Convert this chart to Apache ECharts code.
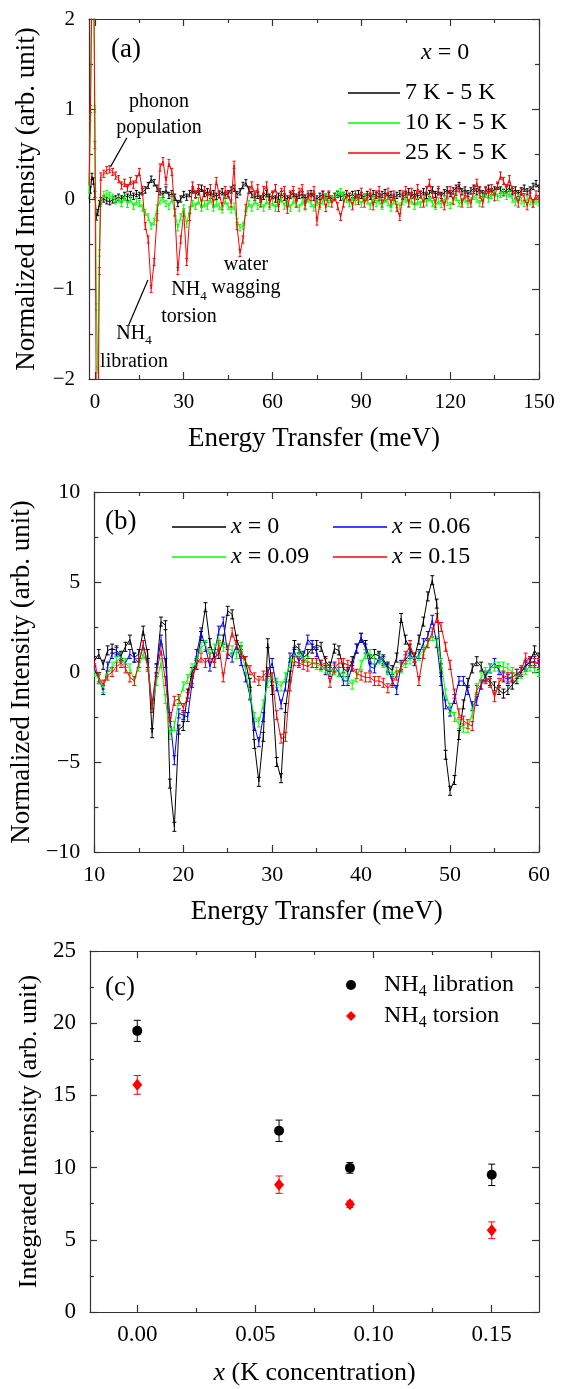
<!DOCTYPE html>
<html><head><meta charset="utf-8">
<script src="https://cdn.jsdelivr.net/npm/echarts@6/dist/echarts.min.js"></script>
<style>html,body{margin:0;padding:0;background:#fff}#c{width:567px;height:1389px}</style>
</head><body><div id="c"></div>
<script>
const FONT = '"Liberation Serif","Times New Roman",serif';
const AX = '#333';

// ---------------- Panel (a) data ----------------
const xA = [-2,-1.5,-1,-0.5,0,0.5,1,1.5,2,
3,4,5,6,7,8,9,10,11,12,
13,14,15,16,17,18,19,20,21,22,
23,24,25,26,27,28,29,30,31,32,
33,34,35,36,37,38,39,40,41,42,
43,44,45,46,47,48,49,50,51,52,
53,54,55,56,57,58,59,60,61,62,
63,64,65,66,67,68,69,70,71,72,
73,74,75,76,77,78,79,80,81,82,
83,84,85,86,87,88,89,90,91,92,
93,94,95,96,97,98,99,100,101,102,
103,104,105,106,107,108,109,110,111,112,
113,114,115,116,117,118,119,120,121,122,
123,124,125,126,127,128,129,130,131,132,
133,134,135,136,137,138,139,140,141,142,
143,144,145,146,147,148,149,150];
const a7K = [0.0,0.1,0.25,0.2,0.05,-0.2,-0.15,-0.05,-0.02,
0.0,-0.02,-0.03,-0.01,0.0,0.02,0.0,0.04,0.02,0.05,
0.03,0.06,0.04,0.08,0.1,0.15,0.22,0.18,0.12,0.08,
0.05,0.1,0.04,0.06,0.02,-0.05,0.0,0.05,0.02,0.06,
0.1,0.05,0.08,0.12,0.06,0.08,0.04,0.06,0.03,0.05,
0.08,0.04,0.06,0.1,0.12,0.05,0.08,0.15,0.18,0.1,
0.05,0.02,0.04,0.0,0.03,0.06,0.02,0.04,0.0,0.03,
0.05,0.02,0.0,0.04,0.06,0.02,0.04,0.05,0.01,0.03,
0.06,0.02,0.0,0.03,0.05,0.02,0.04,0.0,0.03,0.05,
0.02,0.04,0.06,0.03,0.05,0.02,0.06,0.04,0.02,0.05,
0.03,0.06,0.04,0.02,0.05,0.07,0.03,0.05,0.02,0.04,
0.06,0.03,0.05,0.08,0.04,0.06,0.03,0.05,0.08,0.04,
0.06,0.1,0.05,0.08,0.04,0.07,0.1,0.06,0.09,0.12,
0.15,0.08,0.1,0.06,0.09,0.12,0.08,0.1,0.06,0.09,
0.12,0.08,0.1,0.14,0.1,0.07,0.1,0.12,0.08,0.1,
0.06,0.09,0.12,0.08,0.1,0.14,0.17,0.12];
const a10K = [0.05,0.9,2.5,2.8,1.0,-1.2,-1.9,-0.6,-0.05,
0.05,0.06,0.04,0.02,-0.02,0.0,-0.05,0.02,-0.06,0.0,
-0.08,-0.03,-0.05,-0.1,-0.15,-0.2,-0.3,-0.25,-0.1,-0.02,
0.0,-0.05,-0.08,0.0,-0.15,-0.32,-0.2,-0.1,-0.28,-0.12,
-0.05,-0.08,-0.02,-0.1,-0.05,-0.08,0.0,-0.1,-0.05,-0.08,
-0.12,-0.02,-0.08,-0.12,-0.08,-0.25,-0.32,-0.3,-0.15,-0.05,
-0.1,-0.02,-0.08,-0.05,-0.1,-0.02,-0.08,-0.04,-0.1,-0.05,
0.0,-0.08,-0.05,-0.1,-0.02,-0.06,-0.1,-0.03,-0.07,0.0,
-0.05,-0.1,-0.04,-0.08,-0.02,0.02,-0.05,0.0,0.03,0.06,
0.08,0.04,0.0,-0.05,0.02,-0.03,0.0,-0.06,0.02,-0.02,
-0.08,0.0,-0.05,-0.02,-0.08,0.0,-0.04,-0.1,-0.02,-0.06,
-0.08,-0.03,0.0,-0.05,-0.02,-0.08,-0.03,-0.06,0.0,-0.04,
0.02,-0.05,-0.08,-0.02,-0.06,0.0,-0.04,-0.07,-0.02,0.02,
-0.05,-0.03,0.0,-0.06,-0.02,0.03,0.0,-0.05,0.02,0.05,
0.0,0.04,0.07,0.02,0.05,0.08,0.03,0.06,0.0,-0.04,
0.02,-0.02,-0.05,0.0,-0.03,-0.06,-0.02,-0.04];
const a25K = [0.15,1.0,2.6,3.0,0.6,-2.6,-2.8,-0.8,0.25,
0.28,0.32,0.33,0.3,0.26,0.22,0.15,0.18,0.12,0.2,
0.16,0.22,0.3,0.1,-0.3,-0.45,-1.0,-0.7,-0.2,0.35,
0.42,0.2,0.4,0.3,-0.15,-0.8,-0.45,-0.15,-0.7,-0.2,
0.15,0.05,0.12,-0.05,0.1,0.02,0.12,-0.05,0.2,0.05,
-0.08,0.1,0.05,-0.05,0.38,-0.3,-0.6,-0.45,-0.1,0.1,
0.15,0.05,0.12,-0.05,0.1,0.15,-0.05,0.05,0.12,-0.1,
0.08,0.1,-0.12,0.05,0.1,-0.05,0.08,0.12,-0.08,0.05,
0.02,0.1,-0.25,-0.05,0.05,-0.1,0.05,-0.05,0.02,-0.08,
-0.2,-0.05,0.05,0.02,-0.08,0.05,-0.02,0.08,-0.05,0.02,
0.07,-0.08,0.05,0.1,-0.05,0.02,0.08,-0.05,0.05,-0.1,
-0.2,0.05,0.1,-0.05,0.08,-0.02,0.12,0.05,-0.05,0.1,
0.18,0.05,-0.05,0.1,0.02,-0.08,0.05,0.1,-0.02,0.08,
0.12,-0.05,0.05,0.02,-0.05,0.1,0.18,0.05,-0.05,0.1,
0.05,0.12,0.02,0.15,0.26,0.2,0.12,0.22,0.1,0.05,
-0.05,0.08,0.02,-0.08,0.05,-0.05,0.05,0.0];
const errA = [0.035, 0.035, 0.04];
const namesA = ['7 K - 5 K','10 K - 5 K','25 K - 5 K'];
const colorsA = ['#000000','#00ff00','#ff0000'];
const xTicksA = [0,30,60,90,120,150];
const xMinorA = [15,45,75,105,135];
const yTicksA = [-2,-1,0,1,2];
const yMinorA = [-1.5,-0.5,0.5,1.5];

// ---------------- Panel (b) data ----------------
const xB = [10,10.5,11,11.5,12,12.5,13,13.5,14,14.5,
15,15.5,16,16.5,17,17.5,18,18.5,19,19.5,
20,20.5,21,21.5,22,22.5,23,23.5,24,24.5,
25,25.5,26,26.5,27,27.5,28,28.5,29,29.5,
30,30.5,31,31.5,32,32.5,33,33.5,34,34.5,
35,35.5,36,36.5,37,37.5,38,38.5,39,39.5,
40,40.5,41,41.5,42,42.5,43,43.5,44,44.5,
45,45.5,46,46.5,47,47.5,48,48.5,49,49.5,
50,50.5,51,51.5,52,52.5,53,53.5,54,54.5,
55,55.5,56,56.5,57,57.5,58,58.5,59,59.5,60];
const bX000 = [0.6,1.0,0.4,1.2,1.3,1.2,0.9,1.4,1.8,0.8,
1.0,2.3,1.0,-3.4,0.2,2.8,2.6,-6.2,-8.6,-3.2,
-3.0,-1.2,0.0,0.4,2.0,3.6,1.6,0.8,1.0,1.8,
3.4,3.2,1.8,1.2,0.6,-0.6,-4.0,-6.1,-3.6,1.6,
-1.0,-5.0,-5.9,-2.0,-0.2,1.5,1.3,0.8,1.0,1.3,
1.5,1.4,0.6,0.3,1.3,1.2,0.2,0.0,0.6,1.3,
1.9,1.5,0.7,1.0,0.9,0.7,0.3,0.1,0.8,3.0,
1.8,1.3,0.8,1.8,2.8,4.2,5.1,3.8,0.2,-4.6,
-6.6,-6.0,-3.5,-1.8,-0.6,0.2,0.6,0.3,-0.3,-0.5,
-0.8,-1.0,-1.2,-1.0,-0.7,-0.4,0.0,0.3,0.6,1.2,0.8];
const bX006 = [0.2,-0.4,-1.0,0.3,1.0,1.1,0.8,0.5,1.0,0.8,
0.5,1.5,0.5,-1.8,0.2,1.8,0.5,-2.5,-4.9,-2.3,
-2.4,-2.5,-0.6,1.0,2.2,1.4,0.3,1.0,2.3,2.8,
1.0,0.8,1.5,0.6,-0.3,-1.3,-3.0,-3.9,-2.5,0.0,
0.5,-0.8,-1.8,-0.8,0.8,1.1,0.6,0.9,1.8,1.5,
1.1,0.4,0.1,0.0,0.3,0.0,-0.5,-0.5,0.3,1.3,
1.9,1.3,0.3,0.2,0.8,0.6,0.2,-0.5,-1.0,0.4,
0.7,1.0,0.6,1.0,1.6,2.0,2.9,1.6,-0.5,-1.8,
-2.2,-1.5,-0.5,-0.5,-1.0,-1.9,-1.6,-0.7,-0.2,0.2,
0.5,0.1,-0.3,-0.4,-0.3,-0.1,0.0,0.4,0.5,0.6,0.4];
const bX009 = [0.0,-0.4,-0.9,0.0,0.3,0.6,0.8,0.5,0.2,-0.5,
0.3,1.0,0.4,-2.0,-0.5,0.5,-1.5,-3.5,-3.0,-1.6,
-0.8,-0.4,0.2,0.6,1.4,1.5,1.0,1.3,1.8,1.4,
1.3,1.2,1.0,1.4,0.1,-1.2,-2.5,-2.8,-1.8,-0.6,
-0.3,-0.6,-0.8,-0.3,0.5,0.8,1.0,0.8,0.6,0.5,
0.4,0.3,0.2,0.1,0.1,0.0,-0.2,-0.4,-0.7,-0.3,
0.4,1.0,1.0,0.7,0.7,0.5,0.1,-0.1,0.0,0.2,
0.5,0.7,0.8,0.9,1.2,1.6,2.0,1.7,0.5,-1.2,
-2.0,-2.5,-2.9,-3.1,-3.1,-2.3,-0.9,-0.3,0.0,0.2,
0.3,0.3,0.3,0.2,0.0,-0.3,-0.1,0.1,0.3,0.2,0.0];
const bX015 = [0.5,-0.3,-0.7,-0.2,0.0,0.3,0.5,0.2,-0.3,-0.5,
0.5,1.5,0.3,-2.0,0.0,1.2,-0.5,-2.8,-1.6,-1.5,
-2.0,-1.4,-0.4,0.4,0.8,0.5,0.8,0.5,1.5,-0.3,
1.2,2.2,1.5,1.0,0.6,0.1,-0.3,-0.5,-0.2,0.0,
-0.3,-2.4,-3.7,-3.6,-0.8,0.6,0.5,0.4,0.3,0.5,
0.5,0.4,0.5,-0.6,0.2,0.5,0.5,0.4,0.3,-0.1,
-0.2,-0.3,-0.3,-0.5,-0.5,-0.6,-0.9,-0.6,-0.2,0.3,
0.9,1.5,0.8,-0.5,1.0,1.6,2.2,3.0,2.5,1.4,
0.4,-1.2,-2.3,-2.7,-2.9,-3.0,-1.0,-0.7,-0.4,-0.6,
-1.4,-0.6,-0.2,-0.3,-0.3,-0.1,0.1,0.8,0.6,0.5,0.5];
const errB = [0.25, 0.25, 0.25, 0.25];
const namesB = ['x = 0','x = 0.06','x = 0.09','x = 0.15'];
const colorsB = ['#000000','#0000ff','#00ff00','#ff0000'];
const xTicksB = [10,20,30,40,50,60];
const xMinorB = [15,25,35,45,55];
const yTicksB = [-10,-5,0,5,10];
const yMinorB = [-7.5,-2.5,2.5,7.5];

// ---------------- Panel (c) data ----------------
const xC = [0, 0.06, 0.09, 0.15];
const libration = [19.47, 12.55, 9.98, 9.5];
const librationErr = [0.73, 0.74, 0.37, 0.74];
const torsion = [15.73, 8.82, 7.46, 5.66];
const torsionErr = [0.65, 0.6, 0.22, 0.58];
const namesC = ['NH4 libration','NH4 torsion'];
const xTicksC = [0, 0.05, 0.10, 0.15];
const xMinorC = [0.025, 0.075, 0.125];
const yTicksC = [0,5,10,15,20,25];
const yMinorC = [2.5,7.5,12.5,17.5,22.5];

// ---------------- helpers ----------------
const minus = v => String(v).replace('-', '\u2212');
const tickStyle = {color: AX, width: 1.2};

function axisSet(dim, grid, min, max, fs, majors, minors, fmt, margin, nameCfg) {
  const pos = dim === 'x' ? ['bottom','top'] : ['left','right'];
  const base = {type:'value', gridIndex:grid, min:min, max:max, splitLine:{show:false}};
  const line = {show:true, onZero:false, lineStyle:{color:AX, width:1.2}};
  const out = [];
  out.push(Object.assign({}, base, {position:pos[0], axisLine:line,
    axisTick:{show:true, inside:true, length:7, lineStyle:tickStyle, customValues:majors},
    axisLabel:{show:true, customValues:majors, color:'#000', fontFamily:FONT, fontSize:fs, margin:margin, formatter:fmt}
  }, nameCfg));
  out.push(Object.assign({}, base, {position:pos[1], axisLine:line,
    axisTick:{show:true, inside:true, length:7, lineStyle:tickStyle, customValues:majors},
    axisLabel:{show:false}}));
  pos.forEach(p => out.push(Object.assign({}, base, {position:p, axisLine:{show:false, onZero:false},
    axisTick:{show:true, inside:true, length:4, lineStyle:tickStyle, customValues:minors},
    axisLabel:{show:false}})));
  return out;
}
function nameX(text, gap, fs, rich) {
  return {name:text, nameLocation:'middle', nameGap:gap,
    nameTextStyle:{fontFamily:FONT, fontSize:fs, color:'#000', rich:rich || {}}};
}
const italicRich = fs => ({i:{fontStyle:'italic', fontFamily:FONT, fontSize:fs, color:'#000'}});

function errRender(color, cap) {
  return function (params, api) {
    const x = api.value(0), y = api.value(1), e = api.value(2);
    const p1 = api.coord([x, y + e]), p2 = api.coord([x, y - e]);
    const st = {stroke: color, lineWidth: 1};
    return {type:'group', children:[
      {type:'line', shape:{x1:p1[0], y1:p1[1], x2:p2[0], y2:p2[1]}, style:st},
      {type:'line', shape:{x1:p1[0]-cap, y1:p1[1], x2:p1[0]+cap, y2:p1[1]}, style:st},
      {type:'line', shape:{x1:p2[0]-cap, y1:p2[1], x2:p2[0]+cap, y2:p2[1]}, style:st}
    ]};
  };
}

const series = [];
function addLine(name, color, xs, ys, err, xi, yi, cap, extra) {
  series.push({type:'custom', name:name + ' err', xAxisIndex:xi, yAxisIndex:yi,
    data: xs.map((x, i) => [x, ys[i], err]), renderItem: errRender(color, cap),
    clip:true, silent:true, animation:false});
  series.push(Object.assign({type:'line', name:name, xAxisIndex:xi, yAxisIndex:yi,
    data: xs.map((x, i) => [x, ys[i]]), symbol:'none', clip:true,
    lineStyle:{color:color, width:1}, itemStyle:{color:color}, animation:false}, extra || {}));
}

// Panel a series
const aData = [a7K, a10K, a25K];
aData.forEach((ys, k) => {
  const extra = k === 2 ? {markLine:{silent:true, symbol:['none','arrow'], symbolSize:[0,10],
    lineStyle:{color:'#000', width:1.2, type:'solid'}, label:{show:false}, animation:false,
    data:[[{coord:[10.8,0.68]},{coord:[5.3,0.36]}],[{coord:[11.4,-1.40]},{coord:[17.9,-0.90]}]]}} : null;
  addLine(namesA[k], colorsA[k], xA, ys, errA[k], 0, 0, 1.5, extra);
});
// Panel b series
const bData = [bX000, bX006, bX009, bX015];
bData.forEach((ys, k) => addLine(namesB[k], colorsB[k], xB, ys, errB[k], 4, 4, 2));

// Panel c series
function addScatter(name, color, symbol, size, ys, errs) {
  series.push({type:'custom', name:name + ' err', xAxisIndex:8, yAxisIndex:8,
    data: xC.map((x, i) => [x, ys[i], errs[i]]), renderItem: errRender(color, 3.5),
    clip:true, silent:true, animation:false});
  series.push({type:'scatter', name:name, xAxisIndex:8, yAxisIndex:8,
    data: xC.map((x, i) => [x, ys[i]]), symbol:symbol, symbolSize:size,
    itemStyle:{color:color, opacity:1}, animation:false});
}
addScatter(namesC[0], '#000000', 'circle', 10, libration, librationErr);
addScatter(namesC[1], '#ff0000', 'diamond', [10,12], torsion, torsionErr);

const xAxes = [].concat(
  axisSet('x', 0, -2, 150, 21, xTicksA, xMinorA, minus, 13, nameX('Energy Transfer (meV)', 46, 27)),
  axisSet('x', 1, 10, 60, 22, xTicksB, xMinorB, minus, 12, nameX('Energy Transfer (meV)', 46, 27)),
  axisSet('x', 2, -0.02, 0.17, 23, xTicksC, xMinorC, v => Number(v).toFixed(2), 11,
    nameX('{i|x} (K concentration)', 48, 26, italicRich(26)))
);
const yAxes = [].concat(
  axisSet('y', 0, -2, 2, 21, yTicksA, yMinorA, minus, 14, nameX('Normalized Intensity (arb. unit)', 49, 27)),
  axisSet('y', 1, -10, 10, 22, yTicksB, yMinorB, minus, 14, nameX('Normalized Intensity (arb. unit)', 47, 27)),
  axisSet('y', 2, 0, 25, 23, yTicksC, yMinorC, minus, 14, nameX('Integrated Intensity (arb. unit)', 47, 26))
);

const legendText = {fontFamily:FONT, fontSize:24, color:'#000'};
const subRich = {
  n:{fontFamily:FONT, fontSize:24, color:'#000', lineHeight:30},
  s:{fontFamily:FONT, fontSize:16, color:'#000', lineHeight:16, verticalAlign:'bottom'}
};
const nhFmt = name => '{n|NH}{s|4}{n|' + name.slice(3) + '}';
function legendB(name, left, top) {
  return {data:[name], orient:'horizontal', left:left, top:top, icon:'rect', itemWidth:54, itemHeight:1.6,
    textStyle:Object.assign({rich:italicRich(24)}, legendText), selectedMode:false,
    formatter: n => '{i|x}' + n.slice(1)};
}

const option = {
  animation:false,
  backgroundColor:'#fff',
  textStyle:{fontFamily:FONT},
  grid:[
    {left:89, top:19, width:450, height:360},
    {left:90, top:492, width:449, height:360},
    {left:90, top:951, width:449, height:361}
  ],
  xAxis:xAxes,
  yAxis:yAxes,
  legend:[
    {data:namesA, orient:'vertical', left:343, top:76, icon:'rect', itemWidth:52, itemHeight:1.6, itemGap:6,
      textStyle:legendText, selectedMode:false},
    legendB(namesB[0], 167, 510),
    legendB(namesB[1], 328, 510),
    legendB(namesB[2], 167, 540),
    legendB(namesB[3], 328, 540),
    {data:namesC, orient:'vertical', left:341, top:968, itemWidth:10, itemHeight:10, itemGap:4,
      textStyle:Object.assign({rich:subRich, padding:[0,0,0,23]}, legendText), selectedMode:false, formatter: nhFmt}
  ],
  graphic:[
    {type:'text', x:111, y:50, style:{text:'(a)', font:'27px ' + FONT, fill:'#000', textAlign:'left', textVerticalAlign:'middle'}},
    {type:'text', x:421, y:53, style:{text:'{i|x} = 0', font:'24px ' + FONT, fill:'#000', textAlign:'left', textVerticalAlign:'middle', rich:italicRich(24)}},
    {type:'text', x:159, y:102, style:{text:'phonon', font:'20px ' + FONT, fill:'#000', textAlign:'center', textVerticalAlign:'middle'}},
    {type:'text', x:159, y:128, style:{text:'population', font:'20px ' + FONT, fill:'#000', textAlign:'center', textVerticalAlign:'middle'}},
    {type:'text', x:246, y:265, style:{text:'water', font:'20px ' + FONT, fill:'#000', textAlign:'center', textVerticalAlign:'middle'}},
    {type:'text', x:246, y:288, style:{text:'wagging', font:'20px ' + FONT, fill:'#000', textAlign:'center', textVerticalAlign:'middle'}},
    {type:'text', x:189, y:290, style:{text:'{n|NH}{s|4}', font:'20px ' + FONT, fill:'#000', textAlign:'center', textVerticalAlign:'middle',
      rich:{n:{fontFamily:FONT, fontSize:20, lineHeight:26}, s:{fontFamily:FONT, fontSize:13, lineHeight:13, verticalAlign:'bottom'}}}},
    {type:'text', x:189, y:317, style:{text:'torsion', font:'20px ' + FONT, fill:'#000', textAlign:'center', textVerticalAlign:'middle'}},
    {type:'text', x:134, y:334, style:{text:'{n|NH}{s|4}', font:'20px ' + FONT, fill:'#000', textAlign:'center', textVerticalAlign:'middle',
      rich:{n:{fontFamily:FONT, fontSize:20, lineHeight:26}, s:{fontFamily:FONT, fontSize:13, lineHeight:13, verticalAlign:'bottom'}}}},
    {type:'text', x:134, y:362, style:{text:'libration', font:'20px ' + FONT, fill:'#000', textAlign:'center', textVerticalAlign:'middle'}},
    {type:'text', x:105, y:522, style:{text:'(b)', font:'27px ' + FONT, fill:'#000', textAlign:'left', textVerticalAlign:'middle'}},
    {type:'text', x:105, y:988, style:{text:'(c)', font:'27px ' + FONT, fill:'#000', textAlign:'left', textVerticalAlign:'middle'}}
  ],
  series:series
};
const chart = echarts.init(document.getElementById('c'), null, {renderer:'canvas'});
chart.setOption(option);
</script></body></html>
